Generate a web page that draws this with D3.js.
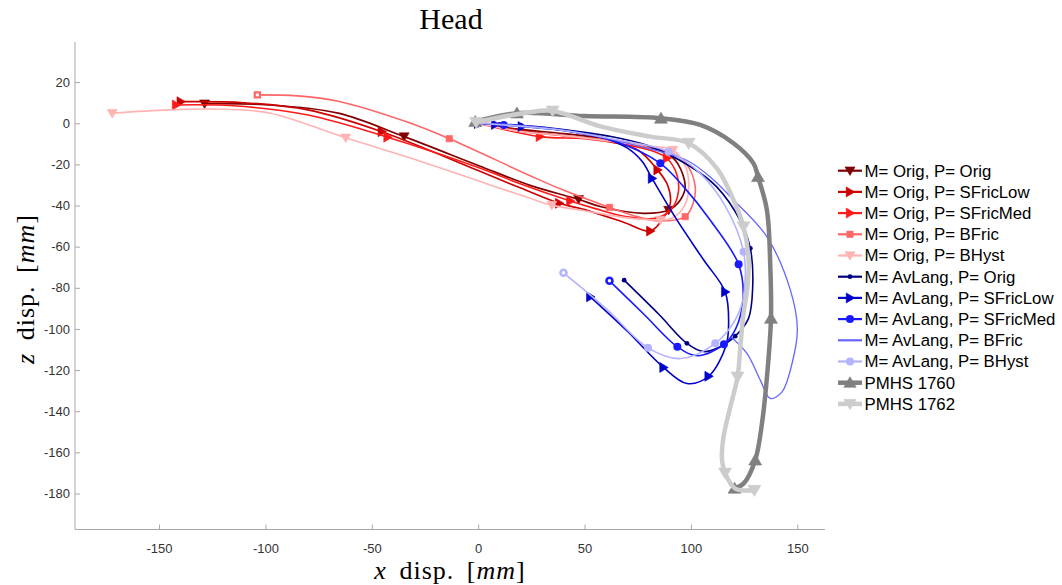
<!DOCTYPE html>
<html>
<head>
<meta charset="utf-8">
<script src="https://cdn.jsdelivr.net/npm/d3@7"></script>
<style>
  body { margin: 0; background: #fff; }
  svg { display: block; }
</style>
</head>
<body>
<svg id="chart" width="1062" height="585"></svg>
<script>
// ---- Head trajectories, x/z displacement in mm ----
const xTicks = [-150, -100, -50, 0, 50, 100, 150];
const zTicks = [-180, -160, -140, -120, -100, -80, -60, -40, -20, 0, 20];

const seriesNames = [
  "M= Orig, P= Orig", "M= Orig, P= SFricLow", "M= Orig, P= SFricMed",
  "M= Orig, P= BFric", "M= Orig, P= BHyst",
  "M= AvLang, P= Orig", "M= AvLang, P= SFricLow", "M= AvLang, P= SFricMed",
  "M= AvLang, P= BFric", "M= AvLang, P= BHyst",
  "PMHS 1760", "PMHS 1762"
];

const origOrig = [[0,0],[20,-3],[40,-5],[60,-7.5],[78,-11],[88.7,-14.6],[94,-20],[97.3,-30.8],[95,-37.3],[89.5,-42.2],[77.7,-43.8],[57.8,-40.6],[47.2,-37],[24.4,-30.2],[0,-20.5],[-34.8,-6.5],[-65.8,4.9],[-100,9],[-128.6,9.5]];
const origOrigMarks = [0, 9, 12, 15, 18];

const origSFricLow = [[0,0],[20,-3.5],[40,-6],[60,-8.5],[75,-13],[84.3,-22.7],[89,-30],[90.3,-38.9],[86.4,-47],[80.9,-52.4],[68,-48],[50,-42],[38.1,-38.9],[20,-31.5],[0,-23],[-45.3,-4.1],[-80,6.5],[-110,10],[-139.8,10.5]];
const origSFricLowMarks = [0, 5, 9, 12, 15, 18];

const origSFricMed = [[0,0],[29,-6.5],[50,-7.5],[70,-10.5],[82,-13.5],[88.7,-17],[93.4,-25],[94,-34],[91,-41.5],[84,-46],[70,-45.5],[55,-41.5],[43.3,-37.8],[20,-29.5],[0,-21.5],[-42.6,-6.8],[-80,4],[-115,8.5],[-142,8.9]];
const origSFricMedMarks = [0, 1, 5, 12, 15, 18];

const origBFric = [[0,0],[20,-4],[40,-6],[62,-8.5],[80,-11.5],[90,-13.8],[98,-20],[102,-30.8],[101,-39],[97.3,-45.4],[85,-47.5],[75,-45.5],[61.7,-40.9],[40,-32.5],[24.4,-25.5],[-13.6,-7.5],[-34,0.8],[-65.8,10.7],[-85,13.3],[-103.8,13.8]];
const origBFricMarks = [0, 5, 9, 12, 15, 19];

const origBHyst = [[0,0],[20,-4],[40,-6],[60,-8.5],[80,-11],[91.5,-13],[97,-20],[99,-30],[97,-40],[91,-46.2],[85.6,-47],[70,-46],[50,-42.5],[34.6,-39.8],[24.4,-36.5],[0,-28],[-30,-17.5],[-62.3,-7.1],[-97.6,4.9],[-120,6.8],[-145.3,6.5],[-172,4.9]];
const origBHystMarks = [0, 5, 10, 13, 17, 21];

const avOrig = [[0,0],[10,-0.5],[20,-1],[40,-3],[60,-6],[80,-11],[99.7,-21],[112,-30.8],[123,-47],[127.9,-60.8],[129,-80],[127,-95],[120.8,-103.5],[113,-109],[105.9,-111],[98.1,-107],[85,-93],[68.6,-76.3]];
const avOrigMarks = [0, 1, 2, 9, 12, 15, 17];

const avSFricLow = [[0,0],[8,-0.6],[20.5,-1.6],[40,-3.5],[57,-6.5],[70,-12],[77,-18.5],[81.7,-26.8],[93.4,-47],[106,-66.5],[116.1,-82],[117.7,-97.3],[116.5,-108],[108.3,-123],[98.1,-126.5],[87.1,-118.7],[70,-101],[52.7,-84.4]];
const avSFricLowMarks = [0, 1, 2, 7, 10, 13, 15, 17];

const avSFricMed = [[0,0],[12,-0.8],[20,-1.2],[40,-3.5],[65,-9],[85.6,-19.5],[96.5,-30.8],[109,-47],[122.4,-68.6],[124.5,-85],[121,-100],[115.5,-107.5],[103,-113],[93.6,-108.7],[78,-93],[61.7,-76.6]];
const avSFricMedMarks = [0, 1, 5, 8, 11, 13, 15];

const avBFric = [[0,0],[25,-1.5],[50,-5],[75,-11],[98,-18],[110,-27],[120,-37.3],[135.7,-55.2],[146.7,-81],[150,-100],[147.5,-116.8],[142.8,-130.6],[137.3,-133.8],[132.6,-124.9],[126.3,-111.9],[119,-104]];
const avBFricMarks = [];

const avBHyst = [[0,0],[20,-1.5],[40,-3.5],[65,-8],[89.5,-13.8],[104,-24],[116,-40],[124.7,-62.5],[125,-82],[121.6,-94.1],[111.4,-107],[95,-114.4],[79.8,-109.2],[60,-90],[40.1,-72.7]];
const avBHystMarks = [0, 4, 7, 10, 12, 14];

const pmhs1760 = [[-1.4,0.8],[18.2,4.9],[50,3.5],[85.9,2.4],[104.4,-0.8],[120,-9.7],[129.4,-19.5],[131.5,-26],[135.7,-42.2],[137.3,-70],[137.6,-94.9],[136,-120],[133.5,-145],[130.2,-163.8],[124.7,-175.2],[120.5,-177.5]];
const pmhs1760Marks = [0, 1, 3, 7, 10, 13, 15];

const pmhs1762 = [[-1,0.5],[22,5],[35,6],[57.4,-1.5],[80.9,-6.5],[98.9,-9.7],[112.2,-21.9],[120,-37.3],[124.7,-50.3],[127.1,-66.5],[126.5,-80],[124.7,-92.5],[123.2,-108.7],[121.9,-123.3],[118.5,-137.9],[115.3,-152.5],[114.6,-163.8],[116,-170],[120.8,-177.6],[129.8,-178.4]];
const pmhs1762Marks = [0, 2, 5, 8, 13, 17, 19];

const seriesPoints = [origOrig, origSFricLow, origSFricMed, origBFric, origBHyst,
  avOrig, avSFricLow, avSFricMed, avBFric, avBHyst, pmhs1760, pmhs1762];
const seriesMarks = [origOrigMarks, origSFricLowMarks, origSFricMedMarks, origBFricMarks, origBHystMarks,
  avOrigMarks, avSFricLowMarks, avSFricMedMarks, avBFricMarks, avBHystMarks, pmhs1760Marks, pmhs1762Marks];

// ---- styling (kept apart from the values) ----
const colors = ["#800000", "#cc0000", "#ff1a1a", "#ff6666", "#ffb3b3",
  "#000080", "#0000cc", "#1a1aff", "#6666ff", "#b3b3ff", "#808080", "#cccccc"];
const markerTypes = ["v", ">", ">", "s", "v", ".", ">", "o", "none", "o", "^", "v"];
const lineWidths = [1.7, 1.6, 1.6, 1.6, 1.6, 1.6, 1.6, 1.6, 1.3, 1.6, 4.5, 4.5];
const markerScale = [5, 5, 5, 3.2, 5, 2.4, 5, 4, 0, 4, 6.5, 6.5];

const svg = d3.select("#chart");
const plot = { left: 75, right: 825, top: 42, bottom: 529.5 };

const x = d3.scaleLinear().domain([-189.5, 163]).range([plot.left, plot.right]);
const y = d3.scaleLinear().domain([-197.5, 39.5]).range([plot.bottom, plot.top]);

const axisColor = "#a8a8a8";
const tickText = "#333333";

// ---- axes (inward ticks, no box) ----
const gx = svg.append("g").attr("transform", `translate(0,${plot.bottom})`)
  .call(d3.axisBottom(x).tickValues(xTicks).tickSizeInner(-5).tickSizeOuter(0).tickPadding(14));
const gy = svg.append("g").attr("transform", `translate(${plot.left},0)`)
  .call(d3.axisLeft(y).tickValues(zTicks).tickSizeInner(-5).tickSizeOuter(0).tickPadding(5));

[gx, gy].forEach(g => {
  g.select(".domain").attr("stroke", axisColor).attr("stroke-width", 1);
  g.selectAll(".tick line").attr("stroke", axisColor);
  g.selectAll(".tick text").attr("fill", tickText)
    .style("font-family", "'Liberation Sans', Arial, sans-serif").style("font-size", "13px")
    .text(d => String(d));   // plain hyphen-minus signs
});
gx.select(".domain").attr("d", `M${plot.left},0H${plot.right}`);
gy.select(".domain").attr("d", `M0,${plot.top}V${plot.bottom}`);

// ---- marker shapes ----
function markerPath(type, s) {
  switch (type) {
    case "v": return `M${-s},${-0.75*s}L${s},${-0.75*s}L0,${0.95*s}Z`;
    case "^": return `M${-s},${0.75*s}L${s},${0.75*s}L0,${-0.95*s}Z`;
    case ">": return `M${-0.75*s},${-s}L${0.95*s},0L${-0.75*s},${s}Z`;
    case "s": return `M${-s},${-s}H${s}V${s}H${-s}Z`;
    default: return "";
  }
}

function drawMarker(g, type, s, color, cx, cy, hollow) {
  if (type === "none") return;
  if (type === "o" || type === ".") {
    if (hollow && type === "o") {
      g.append("circle").attr("cx", cx).attr("cy", cy).attr("r", s * 0.75)
        .attr("fill", "#fff").attr("stroke", color).attr("stroke-width", 2.6);
    } else {
      g.append("circle").attr("cx", cx).attr("cy", cy).attr("r", s).attr("fill", color);
    }
  } else if (type === "s" && hollow) {
    g.append("path").attr("transform", `translate(${cx},${cy})`).attr("d", markerPath(type, s * 0.8))
      .attr("fill", "#fff").attr("stroke", color).attr("stroke-width", 2.2);
  } else {
    g.append("path").attr("transform", `translate(${cx},${cy})`).attr("d", markerPath(type, s))
      .attr("fill", color).attr("stroke", color).attr("stroke-width", 0.6);
  }
}

// ---- trajectories ----
const line = d3.line().x(d => x(d[0])).y(d => y(d[1])).curve(d3.curveCatmullRom.alpha(0.5));
const gLines = svg.append("g");

seriesPoints.forEach((pts, i) => {
  const g = gLines.append("g");
  g.append("path").attr("d", line(pts)).attr("fill", "none")
    .attr("stroke", colors[i]).attr("stroke-width", lineWidths[i])
    .attr("stroke-linejoin", "round").attr("stroke-linecap", "round");
  const marks = seriesMarks[i];
  marks.forEach((k, j) => {
    const p = pts[k];
    const last = (j === marks.length - 1) && k === pts.length - 1;
    drawMarker(g, markerTypes[i], markerScale[i], colors[i], x(p[0]), y(p[1]),
      last && (markerTypes[i] === "o" || markerTypes[i] === "s"));
  });
});

// ---- title and axis labels ----
const serif = "'Liberation Serif', 'Times New Roman', serif";
svg.append("text").attr("x", 451).attr("y", 29).attr("text-anchor", "middle")
  .style("font-family", serif).style("font-size", "30px").attr("fill", "#000").text("Head");

function axisLabel(sel, v) {
  sel.style("font-family", serif).style("font-size", "26px")
    .style("letter-spacing", "1px").style("word-spacing", "5px").attr("fill", "#000");
  sel.append("tspan").style("font-style", "italic").text(v);
  sel.append("tspan").text(" disp. [");
  sel.append("tspan").style("font-style", "italic").text("mm");
  sel.append("tspan").text("]");
}
axisLabel(svg.append("text").attr("x", 450).attr("y", 579).attr("text-anchor", "middle"), "x");
axisLabel(svg.append("text").attr("transform", "translate(34,289) rotate(-90)").attr("text-anchor", "middle"), "z");

// ---- legend ----
const legend = svg.append("g");
const legTop = 170.7, legStep = 21.2;
seriesNames.forEach((name, i) => {
  const cy = legTop + i * legStep;
  const g = legend.append("g");
  g.append("line").attr("x1", 838).attr("x2", 862).attr("y1", cy).attr("y2", cy)
    .attr("stroke", colors[i]).attr("stroke-width", i >= 10 ? 4.5 : 2.2);
  drawMarker(g, markerTypes[i], markerScale[i] * (i >= 10 ? 0.95 : 1), colors[i], 850, cy, false);
  g.append("text").attr("x", 864.5).attr("y", cy).attr("dy", "0.35em")
    .style("font-family", "'Liberation Sans', Arial, sans-serif").style("font-size", "16.8px")
    .attr("fill", "#000").text(name);
});
</script>
</body>
</html>
